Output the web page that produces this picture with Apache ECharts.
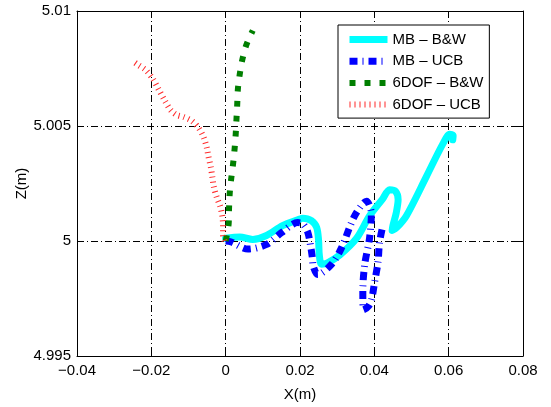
<!DOCTYPE html>
<html>
<head>
<meta charset="utf-8">
<script src="https://cdn.jsdelivr.net/npm/echarts@6/dist/echarts.min.js"></script>
<style>
  html, body { margin: 0; padding: 0; background: #fff; }
  #chart { width: 551px; height: 407px; }
</style>
</head>
<body>
<div id="chart"></div>
<script>
// Axis ticks
const xTicks = [-0.04, -0.02, 0, 0.02, 0.04, 0.06, 0.08];
const zTicks = [4.995, 5, 5.005, 5.01];

// MB – B&W trajectory (metres)
const mbBwX = [0, 0.0038, 0.0073, 0.011, 0.0153, 0.0199, 0.0207, 0.0231, 0.0245, 0.025, 0.0252,
  0.0258, 0.0274, 0.0307, 0.0352, 0.0387, 0.0422, 0.0441, 0.0457, 0.0464, 0.0459, 0.045, 0.0448,
  0.046, 0.0486, 0.054, 0.0584, 0.0603, 0.0612, 0.0611];
const mbBwZ = [5.00012, 5.00017, 5.00007, 5.00024, 5.00067, 5.00095, 5.00099, 5.00088, 5.00058, 5.00003, 4.99939,
  4.99899, 4.99905, 4.99939, 5.00011, 5.00109, 5.00182, 5.00223, 5.00216, 5.0018, 5.00123, 5.00067, 5.00046,
  5.00058, 5.00109, 5.0028, 5.00421, 5.00464, 5.00458, 5.0044];

// MB – UCB trajectory
const mbUcbX = [0, 0.0015, 0.006, 0.011, 0.015, 0.0194, 0.0208, 0.0221, 0.0229, 0.0233, 0.0236,
  0.0248, 0.0284, 0.0311, 0.0347, 0.0379, 0.0392, 0.0387, 0.0374, 0.0369, 0.0371,
  0.0385, 0.0393, 0.0401, 0.041, 0.0414, 0.0423];
const mbUcbZ = [5, 4.99996, 4.99965, 4.99985, 5.00036, 5.0008, 5.00074, 5.00038, 4.99974, 4.99930, 4.99889,
  4.99854, 4.99897, 4.99968, 5.00109, 5.00173, 5.00118, 5.00011, 4.99897, 4.99783, 4.99701,
  4.99718, 4.99748, 4.99824, 4.99909, 4.99994, 5.00067];

// 6DOF – B&W trajectory
const dofBwX = [0, 0.0008, 0.0009, 0.0011, 0.0015, 0.002, 0.0024, 0.0027, 0.0029, 0.0031,
  0.0033, 0.0038, 0.0045, 0.0056, 0.0073];
const dofBwZ = [5, 5.00074, 5.00138, 5.00209, 5.00272, 5.00336, 5.004, 5.00464, 5.00528, 5.00591,
  5.00663, 5.00726, 5.0079, 5.00854, 5.00915];

// 6DOF – UCB trajectory
const dofUcbX = [-0.0003, -0.0007, -0.0007, -0.0009, -0.0015, -0.0024, -0.0032, -0.0036, -0.004,
  -0.0046, -0.0051, -0.0059, -0.0073, -0.0091, -0.0113, -0.0132, -0.0148, -0.0164, -0.018,
  -0.0196, -0.0215, -0.0234, -0.025];
const dofUcbZ = [5, 5.00024, 5.00067, 5.00109, 5.00152, 5.0019, 5.00237, 5.0028, 5.00322,
  5.00365, 5.00407, 5.0045, 5.00492, 5.00522, 5.00539, 5.00548, 5.00569, 5.00611, 5.00658,
  5.00705, 5.00743, 5.00764, 5.00782];

const seriesNames = ['MB \u2013 B&W', 'MB \u2013 UCB', '6DOF \u2013 B&W', '6DOF \u2013 UCB'];

// Line looks shared by each trace and its legend sample
const looks = [
  { color: '#00ffff', width: 7, type: 'solid', cap: 'round', join: 'round' },
  { color: '#0000ff', width: 7, type: [8, 5, 1, 5], cap: 'butt', join: 'round' },
  { color: '#007f00', width: 6, type: [6, 9], cap: 'butt', join: 'round' },
  { color: '#ff2a2a', width: 6, type: [1, 4], cap: 'butt', join: 'round' }
];

const zip = (xs, zs) => xs.map((x, i) => [x, zs[i]]);

const fmt = v => {
  const s = String(parseFloat(v.toFixed(4)));
  return s.replace('-', '\u2212');
};

const FONT = 'Liberation Sans, Arial, Helvetica, sans-serif';
const gridDash = [7, 3, 1, 3];

const chart = echarts.init(document.getElementById('chart'), null, { renderer: 'canvas' });

const baseX = {
  type: 'value', min: xTicks[0], max: xTicks[xTicks.length - 1], interval: 0.02
};
const baseY = {
  type: 'value', min: zTicks[0], max: zTicks[zTicks.length - 1], interval: 0.005
};

const traces = [zip(mbBwX, mbBwZ), zip(mbUcbX, mbUcbZ), zip(dofBwX, dofBwZ), zip(dofUcbX, dofUcbZ)];

chart.setOption({
  animation: false,
  backgroundColor: '#fff',
  grid: { left: 77, right: 28, top: 11, bottom: 44, containLabel: false },
  legend: {
    data: seriesNames.map((name, i) => ({
      name,
      lineStyle: { width: looks[i].width, type: looks[i].type, color: looks[i].color, cap: 'butt' },
      itemStyle: { opacity: 0 }
    })),
    orient: 'vertical',
    left: 338, top: 25,
    padding: [7, 6, 6, 8],
    itemWidth: 38, itemHeight: 14, itemGap: 6.7,
    backgroundColor: '#fff',
    borderColor: '#000', borderWidth: 1,
    textStyle: { fontFamily: FONT, fontSize: 15, color: '#000' }
  },
  xAxis: [
    Object.assign({}, baseX, {
      position: 'bottom',
      name: 'X(m)', nameLocation: 'middle', nameGap: 31, nameMoveOverlap: false,
      nameTextStyle: { fontFamily: FONT, fontSize: 15, color: '#000' },
      axisLine: { onZero: false, lineStyle: { color: '#000', width: 1 } },
      axisTick: { inside: true, length: 5, lineStyle: { color: '#000' } },
      axisLabel: { fontFamily: FONT, fontSize: 15, color: '#000', margin: 7, formatter: fmt },
      splitLine: { show: true, lineStyle: { color: '#000', width: 1, type: gridDash } }
    }),
    Object.assign({}, baseX, {
      position: 'top',
      axisLine: { onZero: false, lineStyle: { color: '#000', width: 1 } },
      axisTick: { inside: true, length: 5, lineStyle: { color: '#000' } },
      axisLabel: { show: false },
      splitLine: { show: false }
    })
  ],
  yAxis: [
    Object.assign({}, baseY, {
      position: 'left',
      name: 'Z(m)', nameLocation: 'middle', nameGap: 48, nameMoveOverlap: false,
      nameTextStyle: { fontFamily: FONT, fontSize: 15, color: '#000' },
      axisLine: { show: true, onZero: false, lineStyle: { color: '#000', width: 1 } },
      axisTick: { show: true, inside: true, length: 5, lineStyle: { color: '#000' } },
      axisLabel: { fontFamily: FONT, fontSize: 15, color: '#000', margin: 6, formatter: fmt },
      splitLine: { show: true, lineStyle: { color: '#000', width: 1, type: gridDash } }
    }),
    Object.assign({}, baseY, {
      position: 'right',
      axisLine: { show: true, onZero: false, lineStyle: { color: '#000', width: 1 } },
      axisTick: { show: true, inside: true, length: 5, lineStyle: { color: '#000' } },
      axisLabel: { show: false },
      splitLine: { show: false }
    })
  ],
  series: traces.map((data, i) => ({
    name: seriesNames[i], type: 'line', data,
    showSymbol: false, symbol: 'none', smooth: 0.3,
    lineStyle: looks[i],
    itemStyle: { color: looks[i].color }
  }))
});
</script>
</body>
</html>
